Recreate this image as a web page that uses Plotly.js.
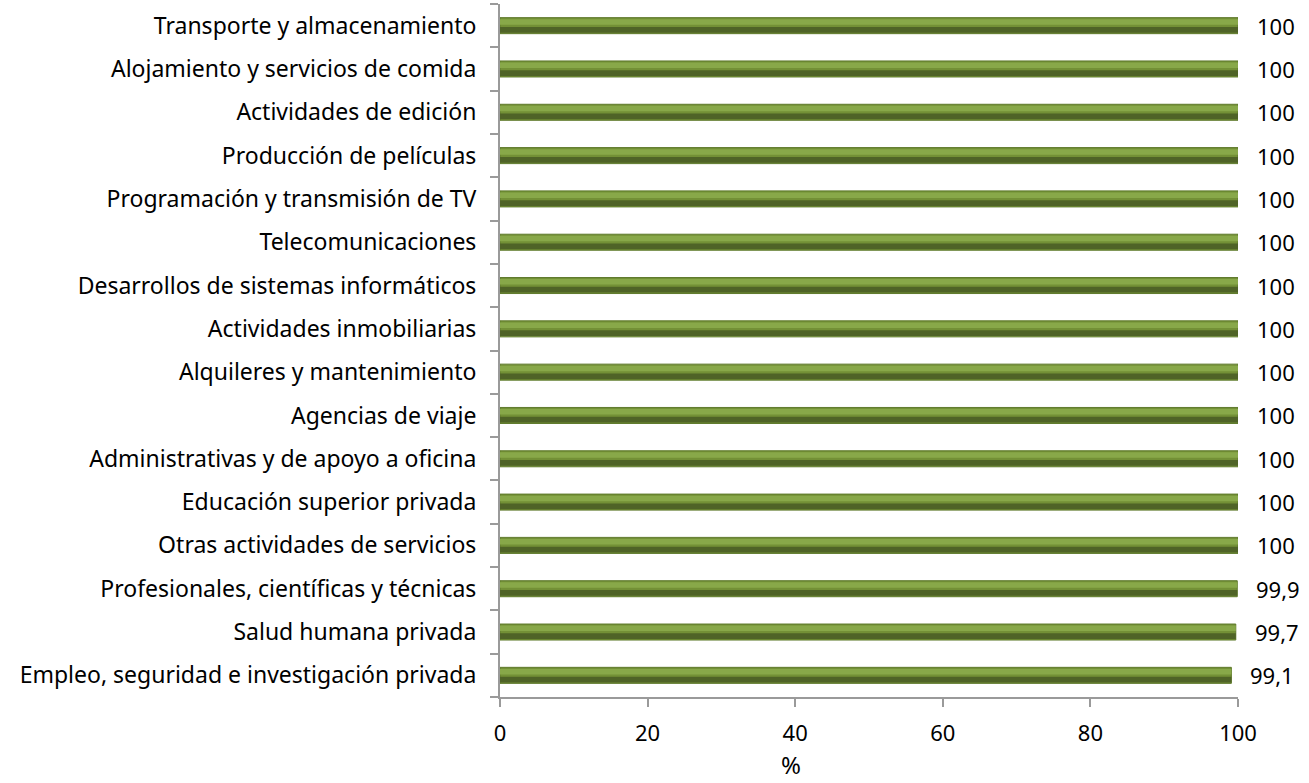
<!DOCTYPE html>
<html>
<head>
<meta charset="utf-8">
<script src="https://cdn.plot.ly/plotly-3.0.1.min.js"></script>
<style>html,body{margin:0;padding:0;background:#fff;}#chart{width:1309px;height:783px;}</style>
</head>
<body>
<div id="chart"></div>
<script>
const categories = [
  "Empleo, seguridad e investigación privada",
  "Salud humana privada",
  "Profesionales, científicas y técnicas",
  "Otras actividades de servicios",
  "Educación superior privada",
  "Administrativas y de apoyo a oficina",
  "Agencias de viaje",
  "Alquileres y mantenimiento",
  "Actividades inmobiliarias",
  "Desarrollos de sistemas informáticos",
  "Telecomunicaciones",
  "Programación y transmisión de TV",
  "Producción de películas",
  "Actividades de edición",
  "Alojamiento y servicios de comida",
  "Transporte y almacenamiento"
];
const values = [99.1, 99.7, 99.9, 100, 100, 100, 100, 100, 100, 100, 100, 100, 100, 100, 100, 100];
const valueLabels = ["99,1", "99,7", "99,9", "100", "100", "100", "100", "100", "100", "100", "100", "100", "100", "100", "100", "100"];
const xTicks = [0, 20, 40, 60, 80, 100];
const xTitle = "%";

const fontFam = "Noto Sans, sans-serif";
const barW = 0.37;
const base = {
  type: "bar", orientation: "h", y: categories, x: values,
  hoverinfo: "none", showlegend: false
};
const traces = [
  Object.assign({}, base, {width: barW, marker: {color: "#739036", line: {color: "#5f7a2c", width: 1}}}),
  Object.assign({}, base, {width: barW * 0.36, offset: -barW / 2 + barW * 0.06,
    marker: {color: "#4f6327", line: {width: 0}}}),
  Object.assign({}, base, {width: barW * 0.34, offset: barW / 2 - barW * 0.44,
    marker: {color: "#88a849", line: {width: 0}}})
];
const annotations = categories.map((c, i) => ({
  x: values[i], y: c, xref: "x", yref: "y", text: valueLabels[i],
  showarrow: false, xanchor: "left", yanchor: "middle", xshift: 17,
  font: {family: fontFam, size: 22, color: "#000"}
}));
annotations.push({
  x: 0.394, y: -0.098, xref: "paper", yref: "paper", text: xTitle,
  showarrow: false, xanchor: "center", yanchor: "middle",
  font: {family: fontFam, size: 24, color: "#000"}
});
const layout = {
  width: 1309, height: 783,
  margin: {l: 500, r: 71, t: 4, b: 86},
  paper_bgcolor: "#fff", plot_bgcolor: "#fff",
  showlegend: false,
  barmode: "overlay",
  font: {family: fontFam, size: 22, color: "#000"},
  annotations: annotations,
  xaxis: {
    range: [0, 100], tickvals: xTicks, ticktext: xTicks.map(String),
    showgrid: false, zeroline: false, showline: true, linecolor: "#9a9a9a", linewidth: 2,
    ticks: "outside", ticklen: 8, tickcolor: "#9a9a9a", tickwidth: 2,
    tickfont: {family: fontFam, size: 22, color: "#000"},
    ticklabelstandoff: 8
  },
  yaxis: {
    type: "category", categoryorder: "array", categoryarray: categories,
    showgrid: false, zeroline: false, showline: true, linecolor: "#9a9a9a", linewidth: 2,
    ticks: "outside", ticklen: 8, tickcolor: "#9a9a9a", tickwidth: 2, tickson: "boundaries",
    tickfont: {family: fontFam, size: 23, color: "#000"},
    ticklabelstandoff: 17
  }
};
Plotly.newPlot("chart", traces, layout, {displayModeBar: false, staticPlot: true});
</script>
</body>
</html>
